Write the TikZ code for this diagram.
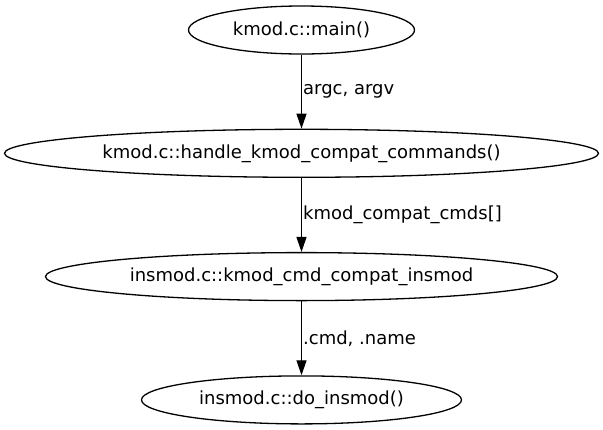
\documentclass[tikz,border=0pt]{standalone}
\usepackage{fontspec}
\setmainfont{DejaVu Sans}
\usetikzlibrary{positioning}
\usetikzlibrary{arrows.meta}
\usetikzlibrary{shapes}
\tikzset{
        funcnode/.style={ellipse, draw=black, line width=1.3pt, inner sep=0pt, minimum height=48pt, font=\fontsize{18}{20}\selectfont},
        % Call edges
        call_edge/.style={-{Triangle[length=15pt,width=10pt]}, line width=1.3pt},
        % Edge labels
        call_label/.style={right, inner sep=1pt, font=\fontsize{18}{20}\selectfont}
}
\begin{document}
\begin{tikzpicture}[x=1pt, y=1pt]
            \useasboundingbox (0,0) rectangle (603,-429);
            \node[funcnode, minimum width=226pt] (main) at (301.5,-30) {kmod.c::main()};
            \node[funcnode, minimum width=594pt, below=74pt of main] (handle) {kmod.c::handle\_kmod\_compat\_commands()};
            \node[funcnode, minimum width=512pt, below=74pt of handle] (compat) {insmod.c::kmod\_cmd\_compat\_insmod};
            \node[funcnode, minimum width=320pt, below=74pt of compat] (doinsmod) {insmod.c::do\_insmod()};

            \draw[call_edge] (main) -- node[call_label]{argc, argv} (handle);
            \draw[call_edge] (handle) -- node[call_label]{kmod\_compat\_cmds[]} (compat);
            \draw[call_edge] (compat) -- node[call_label]{.cmd, .name} (doinsmod);
        \end{tikzpicture}
\end{document}
